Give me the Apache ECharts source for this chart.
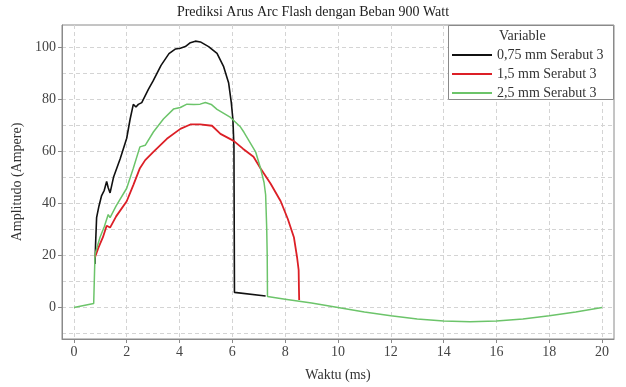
<!DOCTYPE html>
<html>
<head>
<meta charset="utf-8">
<script src="https://cdn.jsdelivr.net/npm/echarts@6/dist/echarts.min.js"></script>
<style>
html,body{margin:0;padding:0;background:#fff;}
#chart{width:626px;height:387px;}
</style>
</head>
<body>
<div id="chart"></div>
<script>
// ---- data ----
const seriesNames = ['0,75 mm Serabut 3', '1,5 mm Serabut 3', '2,5 mm Serabut 3'];
const xTicks = [0, 2, 4, 6, 8, 10, 12, 14, 16, 18, 20];
const yTicks = [0, 20, 40, 60, 80, 100];
const yGrid = [-10, 0, 10, 20, 30, 40, 50, 60, 70, 80, 90, 100];

const blackT = [0.80, 0.82, 0.86, 0.95, 1.05, 1.15, 1.24, 1.30, 1.37, 1.50, 1.75, 2.00, 2.13, 2.25, 2.35, 2.44, 2.57, 2.82, 3.00, 3.30, 3.60, 3.85, 4.03, 4.22, 4.41, 4.60, 4.79, 5.10, 5.42, 5.67, 5.86, 5.96, 6.02, 6.06, 6.08, 7.26];
const blackV = [16.7, 24.0, 34.5, 39.0, 43.0, 45.0, 48.4, 46.0, 44.0, 50.0, 57.0, 65.0, 72.4, 78.0, 77.0, 78.0, 78.7, 83.8, 87.0, 93.0, 97.5, 99.3, 99.6, 100.2, 101.7, 102.3, 102.0, 100.2, 97.6, 92.5, 86.2, 78.7, 72.3, 62.0, 5.8, 4.4];

const redT = [0.80, 0.93, 1.10, 1.24, 1.37, 1.60, 2.00, 2.25, 2.50, 2.70, 3.01, 3.52, 4.03, 4.41, 4.78, 5.23, 5.55, 6.05, 6.40, 6.80, 7.07, 7.45, 7.83, 8.10, 8.33, 8.45, 8.51, 8.52, 8.53];
const redV = [19.3, 23.0, 27.0, 31.4, 30.7, 35.0, 40.8, 47.0, 53.5, 56.6, 59.8, 64.8, 68.6, 70.3, 70.3, 69.8, 66.7, 64.0, 61.0, 57.9, 53.4, 47.5, 40.8, 34.0, 27.0, 19.3, 14.4, 8.0, 2.9];

const greenT = [0, 0.75, 0.78, 0.80, 0.99, 1.15, 1.30, 1.37, 1.60, 2.00, 2.25, 2.50, 2.70, 3.01, 3.39, 3.77, 4.03, 4.28, 4.54, 4.78, 4.98, 5.20, 5.42, 5.93, 6.31, 6.44, 6.88, 7.07, 7.20, 7.26, 7.30, 7.32, 7.33, 8, 9, 10, 11, 12, 13, 14, 15, 16, 17, 18, 19, 20];
const greenV = [0, 1.5, 1.6, 20.5, 27.0, 31.0, 35.7, 34.5, 39.0, 45.8, 53.5, 61.7, 62.3, 67.4, 72.4, 76.2, 76.8, 78.1, 78.0, 78.1, 78.7, 78.0, 76.1, 73.0, 69.3, 67.3, 59.8, 53.4, 48.0, 43.3, 30.7, 20.0, 4.2, 3.2, 1.7, 0, -1.7, -3.2, -4.4, -5.2, -5.5, -5.2, -4.4, -3.2, -1.7, 0];

function pairs(t, v) { return t.map((x, i) => [x, v[i]]); }

const FONT = 'Liberation Serif';
const chart = echarts.init(document.getElementById('chart'), null, {renderer: 'canvas'});

const option = {
  backgroundColor: '#fff',
  animation: false,
  textStyle: {fontFamily: FONT},
  grid: {left: 62, top: 25, right: 12, bottom: 44, show: true, borderColor: '#8a8a8a', borderWidth: 1, backgroundColor: 'transparent'},
  xAxis: {
    type: 'value', min: -0.45, max: 20.45,
    name: 'Waktu (ms)', nameLocation: 'middle', nameGap: 29,
    nameTextStyle: {fontFamily: FONT, fontSize: 14, color: '#333'},
    axisLine: {show: true, onZero: false, lineStyle: {color: '#8a8a8a'}},
    axisTick: {show: true, customValues: xTicks, length: 4, lineStyle: {color: '#8a8a8a'}},
    axisLabel: {customValues: xTicks, fontFamily: FONT, fontSize: 14, color: '#444', margin: 6},
    splitLine: {show: true, lineStyle: {color: '#d4d4d4', type: [4, 3], width: 1}}
  },
  yAxis: [{
    type: 'value', min: -12.1, max: 108.5,
    name: 'Amplitudo (Ampere)', nameLocation: 'middle', nameGap: 33,
    nameTextStyle: {fontFamily: FONT, fontSize: 14, color: '#333'},
    axisLine: {show: true, onZero: false, lineStyle: {color: '#8a8a8a'}},
    axisTick: {show: true, customValues: yTicks, length: 4, lineStyle: {color: '#8a8a8a'}},
    axisLabel: {customValues: yTicks, fontFamily: FONT, fontSize: 14, color: '#444', margin: 6},
    splitLine: {show: false}
  }, {
    type: 'value', min: -12.1, max: 108.5, position: 'left',
    axisLine: {show: false, onZero: false}, axisLabel: {show: false},
    axisTick: {show: false, customValues: yGrid},
    splitLine: {show: true, lineStyle: {color: '#d4d4d4', type: [4, 3], width: 1}}
  }],
  legend: {
    show: true, orient: 'vertical', left: 452, top: 48, z: 20,
    icon: 'rect', itemWidth: 40, itemHeight: 2, itemGap: 5,
    padding: 0,
    textStyle: {fontFamily: FONT, fontSize: 14, color: '#333', lineHeight: 14},
    data: seriesNames
  },
  graphic: [
    {type: 'text', left: 'center', top: 5, style: {text: 'Prediksi Arus Arc Flash dengan Beban 900 Watt', font: '14px "Liberation Serif"', fill: '#222'}},
    {type: 'rect', z: 10, shape: {x: 448.5, y: 25.5, width: 165, height: 74}, style: {fill: '#fff', stroke: '#8a8a8a', lineWidth: 1}},
    {type: 'text', z: 21, x: 499, y: 29, style: {text: 'Variable', font: '14px "Liberation Serif"', fill: '#333'}}
  ],
  series: [
    {name: seriesNames[0], type: 'line', data: pairs(blackT, blackV), showSymbol: false, symbol: 'none', lineStyle: {color: '#111', width: 1.6}, itemStyle: {color: '#111'}, yAxisIndex: 0},
    {name: seriesNames[1], type: 'line', data: pairs(redT, redV), showSymbol: false, symbol: 'none', lineStyle: {color: '#dc1f26', width: 1.8}, itemStyle: {color: '#dc1f26'}, yAxisIndex: 0},
    {name: seriesNames[2], type: 'line', data: pairs(greenT, greenV), showSymbol: false, symbol: 'none', lineStyle: {color: '#6cc46a', width: 1.5}, itemStyle: {color: '#6cc46a'}, yAxisIndex: 0}
  ]
};
chart.setOption(option);
</script>
</body>
</html>
